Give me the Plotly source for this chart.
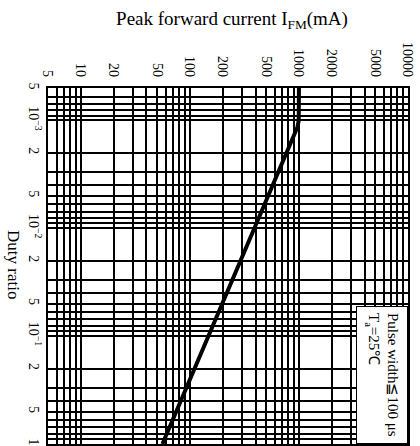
import numpy as np
import plotly.graph_objects as go

# ---- data ----
duty_ratio = [5e-4, 9e-4, 1.0e-3, 1.15e-3, 1e-2, 1e-1, 1.0]
peak_current_ma = [1000, 1000, 995, 970, 390, 148, 56]

x_tickvals = [5, 10, 20, 50, 100, 200, 500, 1000, 2000, 5000, 10000]
x_ticktext = ["5", "10", "20", "50", "100", "200", "500", "1000", "2000", "5000", "10000"]

y_tickvals = [5e-4, 1e-3, 2e-3, 5e-3, 1e-2, 2e-2, 5e-2, 1e-1, 2e-1, 5e-1, 1]
y_ticktext = ["5", "10<sup>−3</sup>", "2", "5", "10<sup>−2</sup>", "2", "5",
              "10<sup>−1</sup>", "2", "5", "1"]

x_minor = [k * d for d in [1, 10, 100, 1000] for k in range(1, 10) if k * d >= 5] + [10000]
y_minor = [k * d for d in [1e-4, 1e-3, 1e-2, 1e-1] for k in range(1, 10) if k * d >= 5e-4 - 1e-12] + [1]

FONT = "Liberation Serif, Times New Roman, serif"

fig = go.Figure()
fig.add_trace(go.Scatter(
    x=peak_current_ma, y=duty_ratio, mode="lines",
    line=dict(color="black", width=4), showlegend=False, hoverinfo="skip"))

grid = dict(showgrid=True, gridcolor="black", gridwidth=1.6)

fig.update_layout(
    width=420, height=446,
    margin=dict(l=48, r=12, t=88, b=0),
    paper_bgcolor="white", plot_bgcolor="white",
    font=dict(family=FONT, size=14, color="black"),
    title=dict(text="Peak forward current I<sub>FM</sub>(mA)",
               x=232 / 420, xref="container", xanchor="center",
               y=1 - 18 / 446, yref="container", yanchor="middle",
               font=dict(family=FONT, size=19, color="black")),
    xaxis=dict(type="log", side="top", range=[np.log10(5), 4],
               tickmode="array", tickvals=x_tickvals, ticktext=x_ticktext,
               tickangle=90, ticks="", ticklabelstandoff=4,
               showline=True, mirror=True, linecolor="black", linewidth=2,
               zeroline=False,
               minor=dict(tickmode="array", tickvals=x_minor, ticks="", **grid),
               **grid),
    yaxis=dict(type="log", range=[0, np.log10(5e-4)],
               tickmode="array", tickvals=y_tickvals, ticktext=y_ticktext,
               tickangle=90, ticks="",
               showline=True, mirror=True, linecolor="black", linewidth=2,
               zeroline=False,
               minor=dict(tickmode="array", tickvals=y_minor, ticks="", **grid),
               **grid),
)

fig.add_annotation(text="Duty ratio", textangle=90, showarrow=False,
                   xref="paper", yref="paper", x=(14 - 48) / 360, y=(446 - 265) / 358,
                   xanchor="center", yanchor="middle",
                   font=dict(family=FONT, size=17, color="black"))

fig.add_annotation(text="Pulse width≦100 μs<br>T<sub>a</sub>=25℃", textangle=90,
                   showarrow=False, align="left",
                   xref="paper", yref="paper", x=1, y=0,
                   xanchor="right", yanchor="bottom",
                   bgcolor="white", bordercolor="black", borderwidth=1, borderpad=6,
                   font=dict(family=FONT, size=15, color="black"))

fig.write_html("out.html")
